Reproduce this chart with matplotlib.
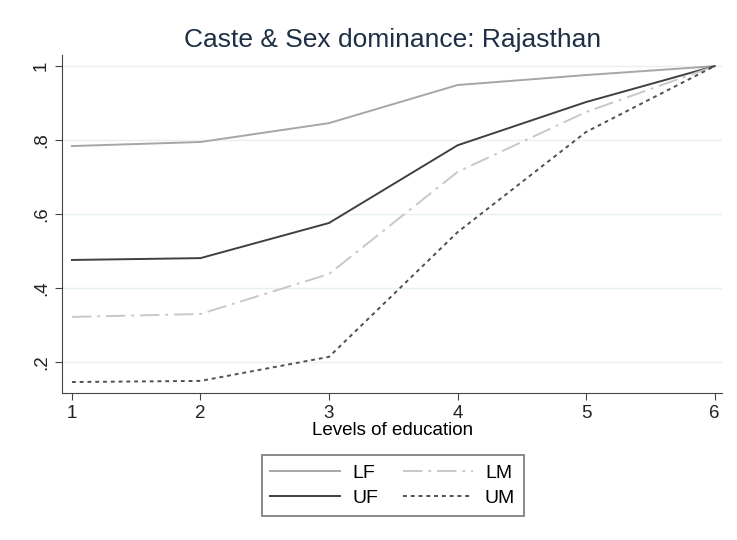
import matplotlib.pyplot as plt

levels = [1, 2, 3, 4, 5, 6]
lf = [0.784, 0.795, 0.846, 0.949, 0.976, 1.0]
uf = [0.476, 0.481, 0.576, 0.786, 0.903, 1.0]
lm = [0.322, 0.330, 0.438, 0.714, 0.876, 1.0]
um = [0.146, 0.149, 0.214, 0.551, 0.822, 1.0]

y_ticks = [0.2, 0.4, 0.6, 0.8, 1.0]
y_labels = ['.2', '.4', '.6', '.8', '1']

plt.rcParams['font.family'] = ['Liberation Sans', 'DejaVu Sans']

fig = plt.figure(figsize=(7.37, 5.40), dpi=100)
ax = fig.add_axes([0.084, 0.272, 0.896, 0.626])

ax.plot(levels, lf, color='#a6a6a6', lw=1.4, label='LF')
ax.plot(levels, uf, color='#404040', lw=1.4, label='UF')
ax.plot(levels, lm, color='#c8c8c8', lw=1.4, dashes=[10, 3, 1.5, 3], label='LM')
ax.plot(levels, um, color='#505050', lw=1.4, dashes=[2, 2], label='UM')

ax.set_xlim(0.922, 6.06)
ax.set_ylim(0.116, 1.03)
ax.set_xticks(levels)
ax.set_yticks(y_ticks)
ax.set_yticklabels(y_labels, rotation=90, va='center')
ax.grid(axis='y', color='#e6eff1', lw=1)
ax.set_axisbelow(True)
for s in ['top', 'right']:
    ax.spines[s].set_visible(False)
for s in ['left', 'bottom']:
    ax.spines[s].set_color('#444444')
ax.tick_params(labelsize=13.5, colors='#222222', length=5, color='#444444')
ax.set_xlabel('Levels of education', fontsize=13.5, labelpad=0)
ax.set_title('Caste & Sex dominance: Rajasthan', fontsize=19, color='#1e2f45', pad=6)

leg = ax.legend(ncol=2, loc='center', bbox_to_anchor=(0.533, 0.101),
                bbox_transform=fig.transFigure,
                fontsize=14, frameon=True, fancybox=False, edgecolor='#555555',
                handlelength=3.6, handletextpad=0.6, columnspacing=1.3,
                borderpad=0.45, labelspacing=0.4, borderaxespad=0)
leg.get_frame().set_linewidth(1.2)

fig.savefig('out.png', dpi=100)
